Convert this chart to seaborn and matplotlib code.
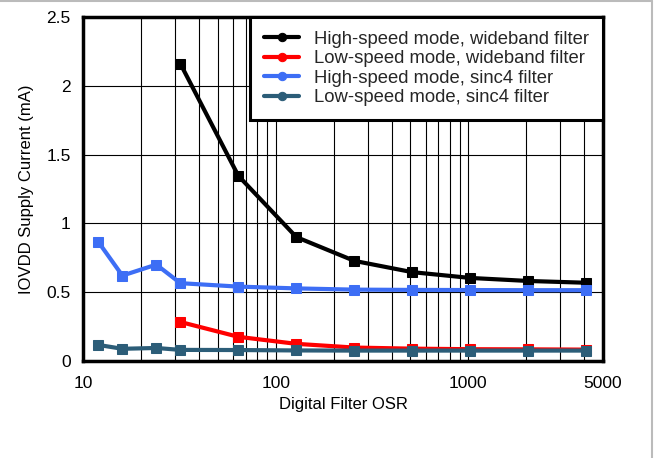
import matplotlib
matplotlib.use("Agg")
import matplotlib.pyplot as plt
import pandas as pd
import seaborn as sns
from matplotlib.lines import Line2D
from matplotlib.ticker import FixedLocator, NullFormatter, LogLocator

# OSR values and supply currents
osr_wide = [32, 64, 128, 256, 512, 1024, 2048, 4096]
osr_sinc = [12, 16, 24, 32, 64, 128, 256, 512, 1024, 2048, 4096]

hs_wide = [2.16, 1.345, 0.90, 0.727, 0.645, 0.603, 0.581, 0.568]
ls_wide = [0.283, 0.175, 0.124, 0.097, 0.089, 0.085, 0.084, 0.082]
hs_sinc = [0.865, 0.62, 0.70, 0.565, 0.54, 0.527, 0.518, 0.516, 0.515, 0.514, 0.514]
ls_sinc = [0.116, 0.088, 0.094, 0.08, 0.079, 0.076, 0.075, 0.075, 0.075, 0.075, 0.075]

labels = [
    "High-speed mode, wideband filter",
    "Low-speed mode, wideband filter",
    "High-speed mode, sinc4 filter",
    "Low-speed mode, sinc4 filter",
]
colors = ["#000000", "#FF0000", "#3D6EF5", "#2C5D78"]

frames = []
for lab, xs, ys in zip(labels, [osr_wide, osr_wide, osr_sinc, osr_sinc],
                       [hs_wide, ls_wide, hs_sinc, ls_sinc]):
    frames.append(pd.DataFrame({"osr": xs, "current": ys, "series": lab}))
df = pd.concat(frames, ignore_index=True)

sns.set_theme(style="white")
plt.rcParams["font.family"] = ["Liberation Sans", "DejaVu Sans"]

fig = plt.figure(figsize=(6.54, 4.58), dpi=100)
ax = fig.add_axes([0.127, 0.212, 0.795, 0.751])

for lab, col in zip(labels, colors):
    sub = df[df["series"] == lab]
    sns.lineplot(data=sub, x="osr", y="current", ax=ax, color=col, linewidth=3,
                 marker="s", markersize=7, markeredgecolor=col, label=lab,
                 zorder=3)

ax.set_xscale("log")
ax.set_xlim(10, 5000)
ax.set_ylim(0, 2.5)
ax.set_yticks([0, 0.5, 1, 1.5, 2, 2.5])
ax.set_yticklabels(["0", "0.5", "1", "1.5", "2", "2.5"])
ax.xaxis.set_major_locator(FixedLocator([10, 100, 1000, 5000]))
ax.set_xticklabels(["10", "100", "1000", "5000"])
ax.xaxis.set_minor_locator(LogLocator(base=10, subs=range(2, 10)))
ax.xaxis.set_minor_formatter(NullFormatter())
ax.grid(True, which="both", axis="x", color="black", linewidth=0.8)
ax.grid(True, which="major", axis="y", color="black", linewidth=0.8)
ax.tick_params(axis="both", which="both", length=0, labelsize=12.5, colors="black")
ax.tick_params(axis="x", pad=11)
ax.tick_params(axis="y", pad=9)

for s in ax.spines.values():
    s.set_color("black")
    s.set_linewidth(2.5)
    s.set_zorder(5)

ax.set_xlabel("Digital Filter OSR", fontsize=12, color="black", labelpad=4)
ax.set_ylabel("IOVDD Supply Current (mA)", fontsize=12, color="black", labelpad=9)

leg = ax.legend(loc="upper right", fontsize=13.3, frameon=True, fancybox=False,
                borderpad=0.75, labelspacing=0.13, handlelength=1.9,
                handletextpad=0.8, borderaxespad=0)
leg.get_frame().set_edgecolor("black")
leg.get_frame().set_linewidth(2.2)
leg.get_frame().set_facecolor("white")
leg.get_frame().set_alpha(1)
leg.set_zorder(6)
for h in leg.legend_handles:
    h.set_marker("o")
    h.set_markersize(6)

# light frame at top and right of the picture
fig.add_artist(Line2D([0, 0.997], [0.998, 0.998], color="#BBBBBB", linewidth=1.5))
fig.add_artist(Line2D([0.997, 0.997], [0.0, 0.998], color="#BBBBBB", linewidth=1.5))

fig.savefig("out.png", dpi=100)
